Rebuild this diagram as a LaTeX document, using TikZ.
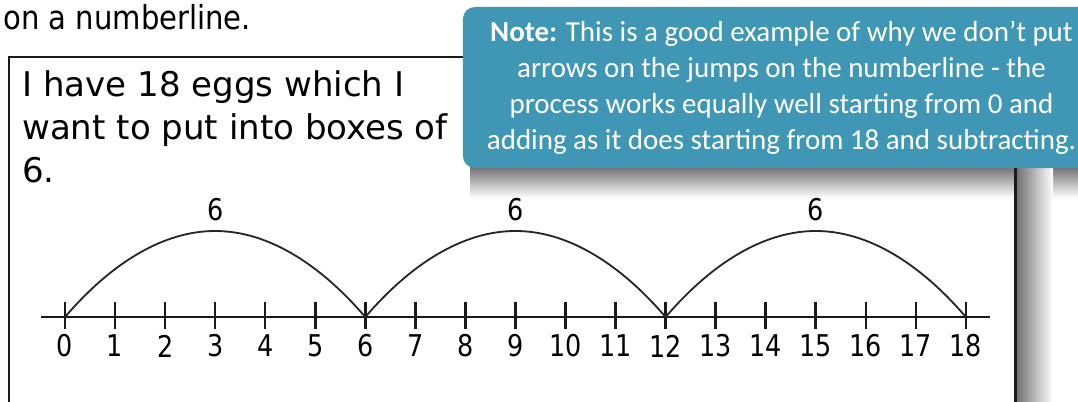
\documentclass[tikz,border=0pt]{standalone}
\usepackage{fontspec}
\setmainfont{DejaVu Sans}
\newfontfamily\notefont{Carlito}
\usetikzlibrary{positioning}
\definecolor{notecol}{RGB}{64,151,181}

\begin{document}
\begin{tikzpicture}[
  x=0.025cm, y=-0.025cm,
  head/.style={font=\fontsize{23.5}{28}\selectfont,inner sep=0pt,anchor=base west},
  hand/.style={font=\fontsize{24.2}{30.6}\selectfont,align=left,inner sep=0pt,anchor=north west},
  num/.style={font=\fontsize{21.3}{24}\selectfont,inner sep=0pt},
  boxline/.style={line width=2.1pt,black!90},
  axis/.style={line width=2.1pt,black!90},
  tick/.style={line width=1.8pt,black!90},
  jump/.style={line width=1.3pt,black!85},
  callout/.style={fill=notecol,rounded corners=3mm,text=white,align=center,inner sep=0pt,
    font=\notefont\fontsize{20.6}{25.6}\selectfont,minimum width=15.925cm,minimum height=4.025cm},
]
\clip (0,0) rectangle (1078,401);
% ---- heading and problem box ----
\node[head] (title) at (3,29) {\scalebox{.88}[1]{on a numberline.}};
\shade[top color=black!55,bottom color=white] (470,167) rectangle (1078,198);
\shade[left color=black!55,right color=white] (1017,167) rectangle (1053,401);
\draw[boxline] (9,57) rectangle (1015.5,430);
\node[hand] (problem) at (22,70) {I have 18 eggs which I\\want to put into boxes of\\6.};
% ---- number line ----
\foreach \i in {0,...,18} {
  \coordinate (n\i) at ({65+50.05*\i},317);
  \draw[tick] (n\i) ++(0,-15) -- ++(0,27);
  \path (n\i) ++(0,29) node[num] (lab\i) {\scalebox{.85}[1]{\i}};
}
\coordinate (lineL) at (41,317);
\coordinate (lineR) at (990,317);
\draw[axis] (lineL) -- (lineR);
% ---- jumps of 6 ----
\foreach \a/\b/\k in {0/6/1,6/12/2,12/18/3} {
  \path (n\a) ++(150.15,-86) coordinate (top\k);
  \draw[jump] (n\a) parabola bend (top\k) (n\b);
  \path (top\k) ++(0,-21) node[num] (six\k) {\scalebox{.85}[1]{6}};
}
% ---- note callout ----
\node[callout] (note) at (781.5,87.5) {\textbf{Note:} This is a good example of why we don’t put\\arrows on the jumps on the numberline - the\\process works equally well starting from 0 and\\adding as it does starting from 18 and subtracting.};
\end{tikzpicture}
\end{document}
